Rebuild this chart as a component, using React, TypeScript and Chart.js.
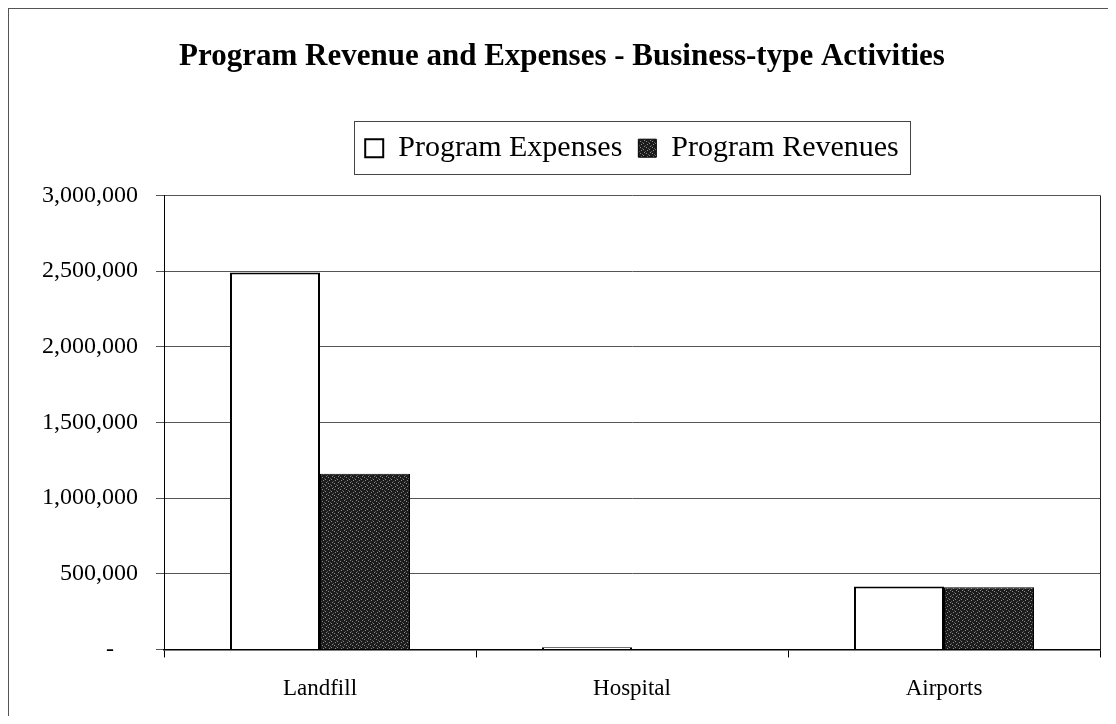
import React, { useEffect, useRef } from "react";
import { Chart, registerables } from "chart.js";

Chart.register(...registerables);

const categories = ["Landfill", "Hospital", "Airports"];
const programExpenses = [2490000, 15000, 415000];
const programRevenues = [1160000, 0, 410000];
const yTicks = [0, 500000, 1000000, 1500000, 2000000, 2500000, 3000000];

function makePattern(): CanvasPattern | string {
  const c = document.createElement("canvas");
  c.width = 6;
  c.height = 6;
  const g = c.getContext("2d");
  if (!g) return "#222";
  g.fillStyle = "#1c1c1c";
  g.fillRect(0, 0, 6, 6);
  g.fillStyle = "#8a8a8a";
  g.fillRect(1, 0, 1, 1);
  g.fillRect(4, 2, 1, 1);
  g.fillRect(2, 3, 1, 1);
  g.fillRect(5, 5, 1, 1);
  g.fillStyle = "#555";
  g.fillRect(0, 4, 1, 1);
  g.fillRect(3, 1, 1, 1);
  const p = g.createPattern(c, "repeat");
  return p || "#222";
}

const framePlugin = {
  id: "framePlugin",
  afterDraw(chart: any) {
    const ctx = chart.ctx;
    const lg = chart.legend;
    ctx.save();
    ctx.strokeStyle = "#444";
    ctx.lineWidth = 1;
    if (lg && lg.legendHitBoxes && lg.legendHitBoxes.length) {
      const hb = lg.legendHitBoxes;
      let l = Infinity, r = -Infinity, t = Infinity, b = -Infinity;
      hb.forEach((h: any) => {
        l = Math.min(l, h.left);
        r = Math.max(r, h.left + h.width);
        t = Math.min(t, h.top);
        b = Math.max(b, h.top + h.height);
      });
      l = Math.round(l - 11) + 0.5;
      r = Math.round(r + 11) + 0.5;
      t = Math.round(t - 12) + 0.5;
      b = Math.round(b + 11) + 0.5;
      ctx.strokeRect(l, t, r - l, b - t);
    }
    const a = chart.chartArea;
    ctx.strokeStyle = "#222";
    ctx.beginPath();
    ctx.moveTo(Math.round(a.right) + 0.5, a.top);
    ctx.lineTo(Math.round(a.right) + 0.5, a.bottom);
    ctx.stroke();
    ctx.restore();
  },
};

export default function App() {
  const ref = useRef<HTMLCanvasElement | null>(null);
  useEffect(() => {
    if (!ref.current) return;
    const serif = "'Liberation Serif', 'Times New Roman', serif";
    const chart = new Chart(ref.current, {
      type: "bar",
      data: {
        labels: categories,
        datasets: [
          {
            label: "Program Expenses",
            data: programExpenses,
            backgroundColor: "#ffffff",
            borderColor: "#000000",
            borderWidth: 2,
            borderSkipped: "bottom",
          },
          {
            label: "Program Revenues",
            data: programRevenues,
            backgroundColor: makePattern() as any,
            borderColor: "#000000",
            borderWidth: 1,
            borderSkipped: "bottom",
          },
        ],
      },
      options: {
        animation: false,
        responsive: false,
        maintainAspectRatio: false,
        layout: { padding: { left: 15, right: 8, top: 0, bottom: -5 } },
        datasets: { bar: { categoryPercentage: 0.577, barPercentage: 1 } },
        plugins: {
          title: {
            display: true,
            text: "Program Revenue and Expenses - Business-type Activities",
            color: "#000",
            font: { family: serif, size: 31, weight: "bold" },
            padding: { top: 29, bottom: 42 },
          },
          subtitle: {
            display: true,
            text: " ",
            position: "top",
            fullSize: false,
            weight: 500,
            font: { size: 1 },
            padding: { top: 0, bottom: 21 },
          },
          legend: {
            display: true,
            fullSize: false,
            labels: {
              color: "#000",
              font: { family: serif, size: 30 },
              boxWidth: 18,
              boxHeight: 18,
              padding: 16,
            },
          },
          tooltip: { enabled: false },
        },
        scales: {
          x: {
            grid: { display: true, drawOnChartArea: false, color: "#000", tickLength: 8, offset: true },
            border: { display: true, color: "#000", width: 1.5 },
            ticks: { color: "#000", font: { family: serif, size: 23 }, padding: 18 },
          },
          y: {
            min: 0,
            max: 3000000,
            afterBuildTicks: (axis: any) => {
              axis.ticks = yTicks.map((v) => ({ value: v }));
            },
            grid: { color: "#555", tickLength: 8, lineWidth: 1 },
            border: { display: true, color: "#000", width: 1 },
            ticks: {
              color: "#000",
              font: { family: serif, size: 24 },
              padding: 18,
              callback: (v: any) => (Number(v) === 0 ? "-    " : Number(v).toLocaleString("en-US")),
            },
          },
        },
      },
      plugins: [framePlugin],
    });
    return () => chart.destroy();
  }, []);
  return (
    <div style={{ width: 1100, height: 708, borderLeft: "1px solid #555", borderTop: "1px solid #555", boxSizing: "border-box" }}>
      <canvas ref={ref} width={1099} height={707} style={{ display: "block" }} />
    </div>
  );
}
